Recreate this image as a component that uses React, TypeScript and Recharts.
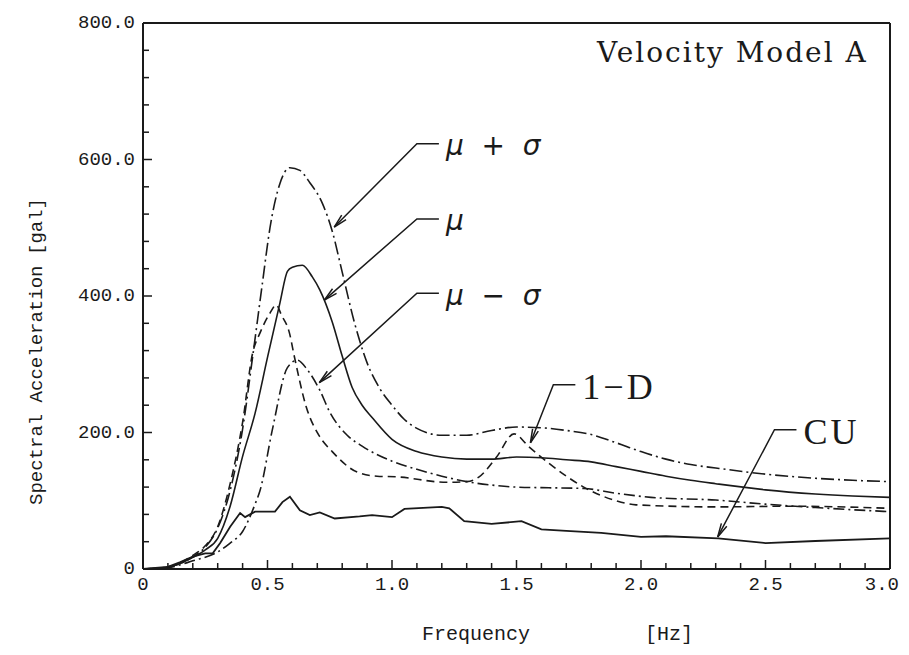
import React from 'react';
import { LineChart, Line, XAxis, YAxis, ReferenceLine } from 'recharts';

// [frequency Hz, spectral acceleration gal]
type Pt = [number, number];

const muPlusSigma: Pt[] = [
  [0, 0], [0.1, 3], [0.15, 8], [0.2, 18], [0.25, 32], [0.3, 60], [0.35, 115], [0.4, 205],
  [0.44, 310], [0.48, 420], [0.51, 500], [0.55, 565], [0.59, 588], [0.63, 584], [0.67, 566],
  [0.72, 536], [0.76, 495], [0.8, 435], [0.85, 360], [0.9, 302], [0.95, 265], [1.0, 240],
  [1.05, 219], [1.1, 206], [1.2, 196], [1.3, 196], [1.4, 203], [1.5, 208], [1.6, 207],
  [1.7, 203], [1.8, 197], [1.9, 185], [2.0, 172], [2.1, 161], [2.2, 153], [2.3, 148],
  [2.5, 139], [2.7, 133], [2.85, 130], [3.0, 128],
];

const mu: Pt[] = [
  [0, 0], [0.1, 3], [0.15, 8], [0.2, 17], [0.25, 28], [0.3, 45], [0.35, 92], [0.4, 165],
  [0.45, 228], [0.5, 310], [0.55, 390], [0.58, 436], [0.6, 442], [0.64, 445], [0.68, 428],
  [0.71, 409], [0.76, 362], [0.8, 312], [0.84, 266], [0.88, 240], [0.92, 222], [1.0, 190],
  [1.1, 172], [1.2, 164], [1.3, 161], [1.4, 161], [1.5, 164], [1.6, 163], [1.7, 160],
  [1.8, 157], [1.9, 150], [2.0, 143], [2.1, 136], [2.2, 130], [2.3, 125], [2.5, 116],
  [2.7, 110], [2.85, 107], [3.0, 105],
];

const muMinusSigma: Pt[] = [
  [0, 0], [0.1, 2], [0.2, 12], [0.3, 25], [0.35, 38], [0.4, 55], [0.45, 95], [0.47, 115],
  [0.52, 205], [0.58, 295], [0.62, 306], [0.66, 292], [0.71, 262], [0.75, 230], [0.82, 196],
  [0.88, 180], [1.0, 158], [1.1, 146], [1.2, 136], [1.3, 128], [1.4, 123], [1.5, 120],
  [1.63, 119], [1.77, 118], [1.9, 111], [2.04, 105], [2.3, 101], [2.5, 95], [2.7, 90], [3.0, 84],
];

const oneD: Pt[] = [
  [0, 0], [0.1, 3], [0.15, 9], [0.2, 20], [0.25, 34], [0.3, 62], [0.35, 125], [0.4, 215],
  [0.44, 316], [0.47, 346], [0.51, 375], [0.535, 387], [0.556, 372], [0.588, 346], [0.608, 311],
  [0.656, 237], [0.708, 195], [0.76, 172], [0.86, 142], [0.94, 136], [1.02, 135], [1.22, 127],
  [1.3, 128], [1.35, 135], [1.42, 164], [1.49, 198], [1.55, 179], [1.63, 155], [1.77, 120],
  [1.9, 100], [1.98, 94], [2.3, 91], [2.6, 92], [3.0, 89],
];

const cu: Pt[] = [
  [0, 0], [0.1, 3], [0.15, 10], [0.2, 18], [0.25, 23], [0.28, 23], [0.31, 38], [0.35, 62],
  [0.39, 82], [0.41, 76], [0.45, 84], [0.53, 84], [0.56, 98], [0.59, 106], [0.63, 86],
  [0.67, 79], [0.71, 83], [0.77, 74], [0.87, 77], [0.92, 79], [1.0, 76], [1.05, 88],
  [1.2, 91], [1.23, 89], [1.29, 70], [1.4, 66], [1.52, 70], [1.6, 58], [1.7, 56],
  [1.84, 53], [2.0, 47], [2.1, 48], [2.31, 45], [2.5, 38], [2.7, 41], [3.0, 45],
];

const xTicks = [0, 0.1, 0.2, 0.3, 0.4, 0.5, 0.6, 0.7, 0.8, 0.9, 1.0, 1.1, 1.2, 1.3, 1.4, 1.5,
  1.6, 1.7, 1.8, 1.9, 2.0, 2.1, 2.2, 2.3, 2.4, 2.5, 2.6, 2.7, 2.8, 2.9, 3.0];
const xLabels: Record<string, string> = {
  '0': '0', '0.5': '0.5', '1': '1.0', '1.5': '1.5', '2': '2.0', '2.5': '2.5', '3': '3.0',
};
const yTicks = [0, 40, 80, 120, 160, 200, 240, 280, 320, 360, 400, 440, 480, 520, 560, 600,
  640, 680, 720, 760, 800];
const yLabels: Record<string, string> = {
  '0': '0', '200': '200.0', '400': '400.0', '600': '600.0', '800': '800.0',
};

// annotation arrows: tip on curve -> elbow of leader
const notes = [
  { text: 'μ  +  σ', tip: { x: 0.768, y: 501 }, elbow: { x: 1.1, y: 623 }, italic: true },
  { text: 'μ', tip: { x: 0.728, y: 394 }, elbow: { x: 1.1, y: 513 }, italic: true },
  { text: 'μ  −  σ', tip: { x: 0.708, y: 273 }, elbow: { x: 1.1, y: 404 }, italic: true },
  { text: '1−D', tip: { x: 1.556, y: 185 }, elbow: { x: 1.648, y: 270 }, italic: false },
  { text: 'CU', tip: { x: 2.308, y: 47 }, elbow: { x: 2.536, y: 204 }, italic: false },
];

const toRows = (pts: Pt[]) => pts.map(([f, v]) => ({ f, v }));

const INK = '#1a1a1a';
const MONO = '"Liberation Mono", "DejaVu Sans Mono", monospace';

const XTick = (props: any) => {
  const { x, y, payload } = props;
  const label = xLabels[String(payload.value)];
  const last = payload.value === 3;
  return (
    <g>
      <line x1={x} x2={x} y1={y} y2={y - (label ? 9 : 6)} stroke={INK} strokeWidth={1.5} />
      {label && (
        <text x={last ? x + 9 : x} y={y + 16} textAnchor={last ? 'end' : 'middle'}
          dominantBaseline="central" fontFamily={MONO} fontSize={19} fill={INK}>{label}</text>
      )}
    </g>
  );
};

const YTick = (props: any) => {
  const { x, y, payload } = props;
  const label = yLabels[String(payload.value)];
  return (
    <g>
      <line x1={x} x2={x + (label ? 9 : 6)} y1={y} y2={y} stroke={INK} strokeWidth={1.5} />
      {label && (
        <text x={x - 8} y={y} textAnchor="end" dominantBaseline="central"
          fontFamily={MONO} fontSize={19} fill={INK}>{label}</text>
      )}
    </g>
  );
};

const Leader = (props: any) => {
  const { x1, y1, x2, y2, text, italic } = props;
  const dx = x1 - x2;
  const dy = y1 - y2;
  const len = Math.hypot(dx, dy) || 1;
  const ux = dx / len;
  const uy = dy / len;
  const head = 14;
  const a = 0.22;
  const barb = (s: number) => {
    const rx = ux * Math.cos(s * a) - uy * Math.sin(s * a);
    const ry = ux * Math.sin(s * a) + uy * Math.cos(s * a);
    return `${x1 - head * rx},${y1 - head * ry}`;
  };
  return (
    <g>
      <polyline points={`${x2 + 22},${y2} ${x2},${y2} ${x1},${y1}`} fill="none" stroke={INK} strokeWidth={1.5} />
      <polyline points={`${barb(1)} ${x1},${y1} ${barb(-1)}`} fill="none" stroke={INK} strokeWidth={1.5} />
      <text x={x2 + 29} y={y2 + 2} dominantBaseline="central" fill={INK}
        style={{ whiteSpace: 'pre' }}
        fontFamily={italic ? '"DejaVu Sans", sans-serif' : '"Liberation Serif", serif'}
        fontStyle={italic ? 'italic' : 'normal'}
        letterSpacing={italic ? 0 : 3}
        fontSize={italic ? 28 : 36}>{text}</text>
    </g>
  );
};

export default function App() {
  const W = 900;
  const H = 636;
  return (
    <div style={{ position: 'relative', width: W, height: H, background: '#fff' }}>
      <style>{'html, body { overflow: hidden; }'}</style>
      <LineChart width={W} height={H} margin={{ top: 15, right: 18, left: 0, bottom: 0 }}
        style={{ overflow: 'visible' }}>
        <XAxis type="number" dataKey="f" domain={[0, 3]} ticks={xTicks} interval={0}
          height={75} tickSize={0} tickMargin={0} tickLine={false} tick={<XTick />}
          axisLine={{ stroke: INK, strokeWidth: 2 }} allowDuplicatedCategory={false} />
        <YAxis type="number" domain={[0, 800]} ticks={yTicks} interval={0}
          width={135} tickSize={0} tickMargin={0} tickLine={false} tick={<YTick />}
          axisLine={{ stroke: INK, strokeWidth: 2 }} />
        <ReferenceLine y={800} stroke={INK} strokeWidth={2} />
        <ReferenceLine x={3} stroke={INK} strokeWidth={2} />
        <Line data={toRows(muPlusSigma)} dataKey="v" type="monotone" stroke={INK}
          strokeWidth={1.6} strokeDasharray="13 4 2 4" dot={false} isAnimationActive={false} />
        <Line data={toRows(mu)} dataKey="v" type="monotone" stroke={INK}
          strokeWidth={1.6} dot={false} isAnimationActive={false} />
        <Line data={toRows(muMinusSigma)} dataKey="v" type="monotone" stroke={INK}
          strokeWidth={1.6} strokeDasharray="11 4 2 4" dot={false} isAnimationActive={false} />
        <Line data={toRows(oneD)} dataKey="v" type="monotone" stroke={INK}
          strokeWidth={1.6} strokeDasharray="8 5" dot={false} isAnimationActive={false} />
        <Line data={toRows(cu)} dataKey="v" type="linear" stroke={INK}
          strokeWidth={1.8} dot={false} isAnimationActive={false} />
        {notes.map((n) => (
          <ReferenceLine key={n.text} segment={[n.tip, n.elbow]} ifOverflow="visible"
            shape={(p: any) => <Leader {...p} text={n.text} italic={n.italic} />} />
        ))}
      </LineChart>
      <svg width={W} height={H}
        style={{ position: 'absolute', left: 0, top: 0, pointerEvents: 'none', overflow: 'visible' }}>
        <text x={589} y={54} fontFamily='"DejaVu Serif", serif' fontSize={28} letterSpacing={2}
          fill={INK}>Velocity Model A</text>
        <text x={414} y={626} dominantBaseline="central" fontFamily={MONO} fontSize={20} fill={INK}>Frequency</text>
        <text x={637} y={626} dominantBaseline="central" fontFamily={MONO} fontSize={20} fill={INK}>[Hz]</text>
        <text transform="translate(29,497) rotate(-90)" dominantBaseline="central"
          fontFamily={MONO} fontSize={19} fill={INK}>Spectral Acceleration</text>
        <text transform="translate(29,247) rotate(-90)" dominantBaseline="central"
          fontFamily={MONO} fontSize={19} fill={INK}>[gal]</text>
      </svg>
    </div>
  );
}
